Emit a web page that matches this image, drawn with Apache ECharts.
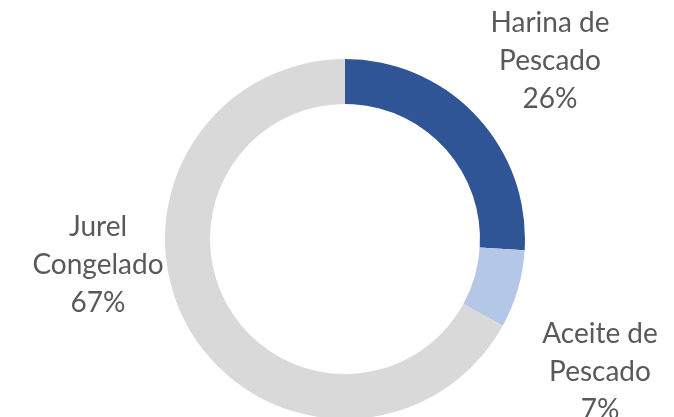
<!DOCTYPE html>
<html>
<head>
<meta charset="utf-8">
<script src="https://cdn.jsdelivr.net/npm/echarts@6/dist/echarts.min.js"></script>
<style>
  html, body { margin: 0; padding: 0; background: #fff; }
  #chart { width: 674px; height: 417px; }
</style>
</head>
<body>
<div id="chart"></div>
<script>
// 数据
const categories = ['Harina de\nPescado', 'Aceite de\nPescado', 'Jurel\nCongelado']
const values = [26, 7, 67]
const colors = ['#2F5597', '#B4C7E7', '#D9D9D9']

// 标签位置（像素）
const labelPos = [
  { x: 550, y: 61 },
  { x: 600, y: 372 },
  { x: 98, y: 265 }
]

const chart = echarts.init(document.getElementById('chart'))

const option = {
  animation: false,
  series: [
    {
      type: 'pie',
      center: [345, 239],
      radius: [135, 180],
      startAngle: 90,
      clockwise: true,
      avoidLabelOverlap: false,
      itemStyle: { borderWidth: 0 },
      label: {
        show: true,
        position: 'outside',
        formatter: (p) => `${p.name}\n${Math.round(p.percent)}%`,
        color: '#595959',
        fontFamily: 'Lato',
        fontSize: 28,
        lineHeight: 38,
        align: 'center'
      },
      labelLine: { show: false },
      labelLayout: (params) => ({
        x: labelPos[params.dataIndex].x,
        y: labelPos[params.dataIndex].y,
        align: 'center',
        verticalAlign: 'middle'
      }),
      data: categories.map((name, i) => ({
        name,
        value: values[i],
        itemStyle: { color: colors[i] }
      }))
    }
  ]
}

chart.setOption(option)
</script>
</body>
</html>
